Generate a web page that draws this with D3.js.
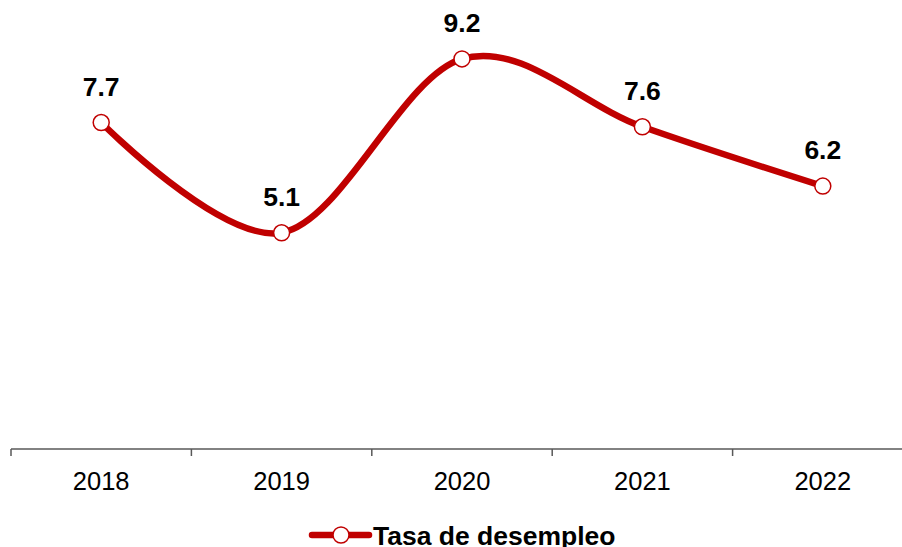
<!DOCTYPE html>
<html>
<head>
<meta charset="utf-8">
<script src="https://cdn.jsdelivr.net/npm/d3@7"></script>
<style>
  body { margin: 0; background: #fff; }
  svg { display: block; font-family: "Liberation Sans", Arial, sans-serif; }
</style>
</head>
<body>
<div id="chart"></div>
<script>
// data
var years = ["2018", "2019", "2020", "2021", "2022"];
var rates = [7.7, 5.1, 9.2, 7.6, 6.2];
var seriesName = "Tasa de desempleo";

var width = 902, height = 547;
var red = "#C00000";

var svg = d3.select("#chart")
    .append("svg")
    .attr("width", width)
    .attr("height", height);

// x: category bands, ticks sit on band boundaries
var x = d3.scaleBand()
    .domain(years)
    .range([11, 913])
    .padding(0);

var y = d3.scaleLinear()
    .domain([0, 10])
    .range([449, 25]);

// axis line
svg.append("line")
    .attr("x1", 11).attr("x2", width)
    .attr("y1", y(0)).attr("y2", y(0))
    .attr("stroke", "#595959")
    .attr("stroke-width", 1.5);

// tick marks at band edges
var edges = years.map(function(d) { return x(d); }).concat([x(years[years.length - 1]) + x.step()]);
svg.selectAll(".tick")
    .data(edges)
    .enter()
    .append("line")
    .attr("x1", function(d) { return d; })
    .attr("x2", function(d) { return d; })
    .attr("y1", y(0))
    .attr("y2", y(0) + 7)
    .attr("stroke", "#595959")
    .attr("stroke-width", 1.5);

// tick labels
svg.selectAll(".xlabel")
    .data(years)
    .enter()
    .append("text")
    .attr("x", function(d) { return x(d) + x.bandwidth() / 2; })
    .attr("y", 490)
    .attr("text-anchor", "middle")
    .attr("font-size", "25.5px")
    .attr("fill", "#000")
    .text(function(d) { return d; });

var pts = years.map(function(d, i) { return { year: d, value: rates[i] }; });

// smoothed line
var line = d3.line()
    .x(function(d) { return x(d.year) + x.bandwidth() / 2; })
    .y(function(d) { return y(d.value); })
    .curve(d3.curveCardinal.tension(0));

svg.append("path")
    .datum(pts)
    .attr("d", line)
    .attr("fill", "none")
    .attr("stroke", red)
    .attr("stroke-width", 6.5)
    .attr("stroke-linecap", "round");

// markers
svg.selectAll(".dot")
    .data(pts)
    .enter()
    .append("circle")
    .attr("cx", function(d) { return x(d.year) + x.bandwidth() / 2; })
    .attr("cy", function(d) { return y(d.value); })
    .attr("r", 8)
    .attr("fill", "#fff")
    .attr("stroke", red)
    .attr("stroke-width", 1.5);

// data labels
svg.selectAll(".vlabel")
    .data(pts)
    .enter()
    .append("text")
    .attr("x", function(d) { return x(d.year) + x.bandwidth() / 2; })
    .attr("y", function(d) { return y(d.value) - 27; })
    .attr("text-anchor", "middle")
    .attr("font-size", "26.5px")
    .attr("font-weight", "bold")
    .attr("fill", "#000")
    .text(function(d) { return d.value.toFixed(1); });

// legend
var legend = svg.append("g").attr("transform", "translate(312,535)");
legend.append("line")
    .attr("x1", 0).attr("x2", 57)
    .attr("y1", 0).attr("y2", 0)
    .attr("stroke", red)
    .attr("stroke-width", 6.5)
    .attr("stroke-linecap", "round");
legend.append("circle")
    .attr("cx", 29).attr("cy", 0)
    .attr("r", 8)
    .attr("fill", "#fff")
    .attr("stroke", red)
    .attr("stroke-width", 1.5);
legend.append("text")
    .attr("x", 61)
    .attr("y", 10)
    .attr("font-size", "26.5px")
    .attr("font-weight", "bold")
    .attr("fill", "#000")
    .text(seriesName);
</script>
</body>
</html>
